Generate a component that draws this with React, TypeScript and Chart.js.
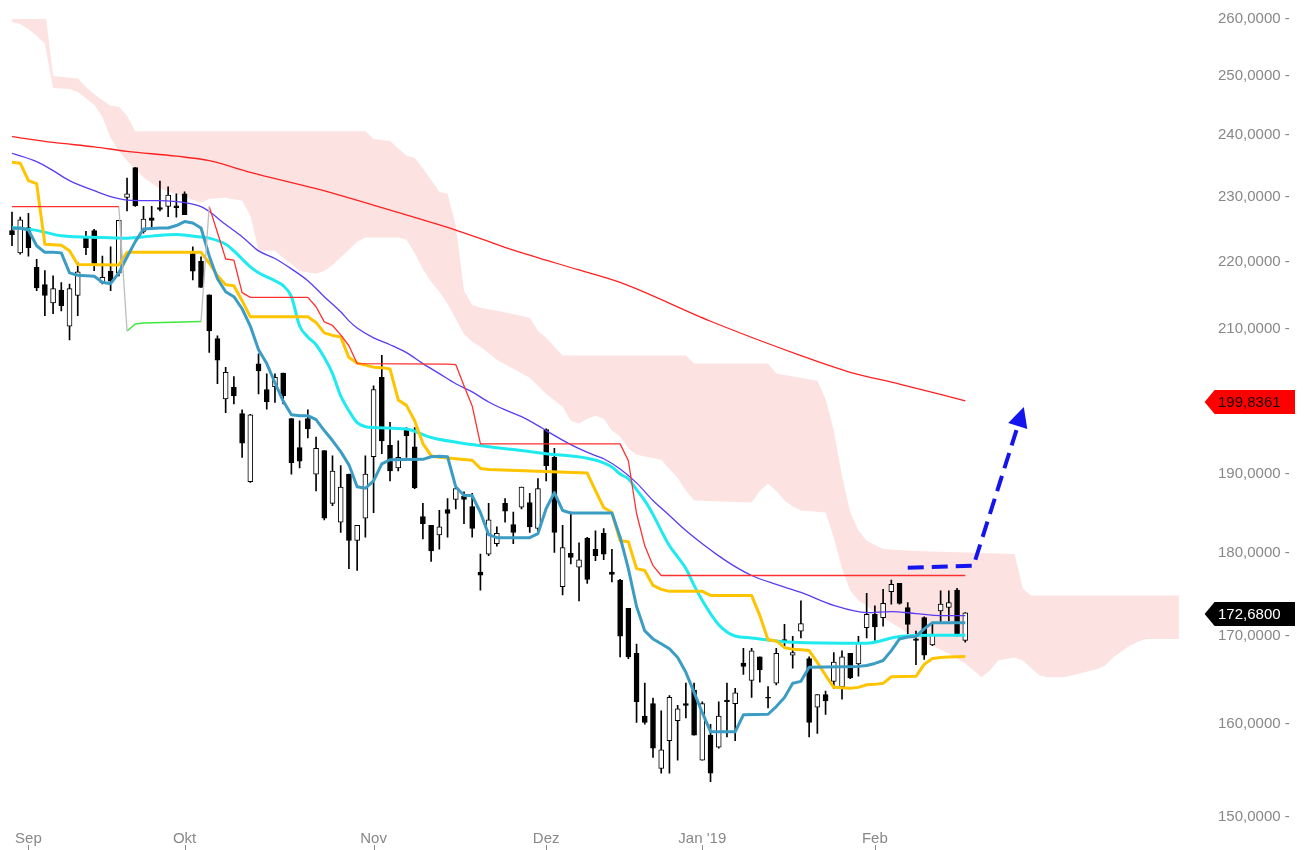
import React, { useEffect, useRef } from 'react';
import { Chart, registerables } from 'chart.js';

Chart.register(...registerables);

const FONT = '"Liberation Sans", Arial, Helvetica, sans-serif';

// ---- axis labels ----
const monthTickIdx = [2, 21, 44, 65, 84, 105];
const monthLabels = ['Sep', 'Okt', 'Nov', 'Dez', "Jan '19", 'Feb'];
const yTicks = [150, 160, 170, 180, 190, 200, 210, 220, 230, 240, 250, 260];

// ---- candles (trading-day index 0..116) ----
const opens = [224.7,221.3,225.2,219.1,216.5,213.8,215.7,210.4,214.9,223.6,
  224.7,216.8,218.5,218.2,229.9,234.7,224.6,226.7,228.3,228.5,
  228.6,230.5,221.2,220.0,215.0,208.6,200.1,201.7,198.1,189.0,
  205.0,201.4,201.8,203.7,197.4,193.5,197.4,190.0,193.1,186.2,
  183.8,190.0,181.5,184.3,192.3,203.1,193.8,190.8,195.9,193.6,
  184.5,183.4,182.2,185.4,186.7,187.1,185.8,177.6,179.8,181.1,
  186.2,183.5,185.7,186.3,183.0,195.9,192.2,175.8,179.9,178.2,
  181.8,180.4,182.4,177.6,176.6,173.2,167.9,160.8,162.2,155.1,
  158.1,160.3,162.2,163.7,156.0,158.7,157.4,162.6,162.2,166.8,
  164.8,167.5,162.9,164.5,169.5,167.7,170.5,167.3,161.8,163.2,
  164.7,164.1,167.9,166.7,170.9,172.5,172.1,175.2,176.2,173.3,
  169.6,172.1,168.9,172.9,173.3,175.4,169.4];
const highs = [227.6,226.8,227.4,220.3,218.6,217.8,216.8,216.6,219.8,224.6,
  224.9,220.8,222.2,226.3,233.0,234.7,228.5,228.5,232.5,231.6,
  230.5,230.8,222.2,220.7,215.0,209.0,204.5,203.2,198.6,198.0,
  206.4,203.6,203.6,203.7,197.4,197.1,198.6,194.9,193.1,192.4,
  191.1,190.0,183.4,192.4,201.9,206.2,196.9,194.4,196.2,196.2,
  186.2,183.4,185.3,186.8,188.3,187.7,187.5,179.8,186.2,183.2,
  186.8,185.1,188.3,187.5,189.4,196.0,193.4,183.4,185.1,181.2,
  181.9,182.7,183.0,180.4,176.7,173.2,169.0,164.5,162.8,161.4,
  163.1,162.0,164.5,164.5,162.4,159.9,162.4,164.5,163.9,168.5,
  168.5,167.5,164.1,168.5,171.3,169.9,174.1,167.5,163.2,163.6,
  168.0,168.2,167.9,169.9,175.0,173.5,175.5,176.6,176.2,173.9,
  170.5,172.2,171.3,175.3,175.3,175.6,172.7];
const lows = [222.4,221.1,220.8,215.6,211.9,212.2,212.6,208.4,211.9,221.0,
  218.6,216.6,215.6,217.8,227.8,228.5,224.3,224.9,227.8,226.9,
  226.8,227.2,217.2,216.1,206.6,202.2,198.2,199.4,192.2,188.9,
  200.8,198.7,199.6,199.4,190.0,190.8,194.8,187.8,184.1,185.9,
  182.5,178.0,177.8,181.9,185.0,192.7,189.1,190.4,192.2,188.1,
  181.7,178.9,180.4,181.9,185.5,183.6,181.9,175.4,179.6,180.8,
  183.8,181.1,185.5,182.5,182.7,189.1,180.0,174.8,178.6,174.1,
  176.2,179.0,179.1,176.4,167.5,167.3,160.1,159.9,156.3,154.6,
  154.6,156.0,160.6,158.7,156.0,153.7,157.3,158.5,158.1,165.5,
  162.9,164.6,161.7,164.3,168.6,166.2,169.7,158.5,158.9,161.0,
  163.9,162.7,165.0,165.3,169.7,169.4,171.1,173.7,173.7,170.2,
  166.6,167.2,168.8,171.5,171.7,169.9,169.2];
const closes = [224.1,226.4,222.1,216.0,214.9,215.9,213.4,215.9,218.4,222.1,
  219.7,217.6,217.0,226.3,230.5,228.6,226.5,226.3,228.0,230.3,
  228.3,227.2,218.5,216.1,209.7,205.5,203.8,200.5,194.1,197.9,
  204.0,199.7,203.1,200.5,191.5,191.7,196.0,193.4,184.3,190.4,
  188.3,181.5,183.4,190.0,201.4,194.4,190.4,192.2,195.1,188.2,
  183.6,180.2,183.2,184.9,188.1,186.7,183.0,177.2,184.1,182.4,
  185.2,182.5,188.3,183.2,188.1,191.1,182.5,180.6,179.4,179.1,
  176.7,179.6,179.8,177.3,169.9,167.5,162.4,160.1,157.3,157.1,
  162.9,161.6,162.0,158.7,162.2,154.6,160.8,162.4,163.4,166.4,
  168.2,166.0,162.8,167.9,169.3,168.0,171.4,160.1,163.2,162.5,
  166.9,167.5,165.1,169.2,172.5,171.0,173.8,176.1,173.8,171.3,
  169.4,167.7,170.1,173.7,173.9,170.1,172.68];

// ---- indicator lines: [index, value] ----
const maLong = [[0,239.76],[5,238.79],[10,238.07],[14,237.34],[20,236.54],[24,235.81],[29,233.93],[37,231.3],[45,228.3],[53,225.2],[57,223.47],[61,221.71],[69,218.7],[74,216.83],[85,211.1],[96,206.16],[102,203.8],[108,202.16],[116,199.8361]];
const maMid = [[0,237.02],[3,235.65],[5,234.2],[7,232.59],[10,230.98],[12,230.02],[14,229.5],[18,229.39],[21,229.08],[23,228.46],[24,227.68],[26,225.65],[28,223.78],[30,221.6],[32,220.44],[34,218.86],[36,217.08],[38,214.71],[40,212.49],[41,211.16],[42,210.12],[44,208.7],[46,207.71],[48,206.58],[50,205.03],[52,203.62],[54,202.2],[56,201.07],[58,199.68],[60,198.6],[62,197.66],[64,196.45],[65,195.78],[68,193.9],[71,192.42],[72,192.02],[74,190.67],[76,188.85],[78,186.56],[80,184.65],[82,182.74],[84,181.08],[86,179.58],[88,178.25],[90,177.17],[93,176.08],[96,175.11],[100,173.55],[104,172.7],[107,172.82],[110,172.58],[113,172.34],[116,172.34]];
const cyanLine = [[0,225.19],[3,224.75],[6,223.91],[11,223.66],[14,223.55],[17,223.86],[20,224.1],[23,223.71],[24,223.55],[26,222.62],[27,221.6],[28,220.36],[29,219.16],[30,218.27],[31,217.67],[32,217.08],[33,216.34],[34,214.71],[35,210.41],[36,208.84],[37,207.71],[38,205.88],[39,203.62],[40,200.51],[41,198.47],[42,196.85],[43,196.32],[44,196.18],[48,195.98],[51,194.84],[56,193.9],[61,193.23],[65,192.69],[70,192.08],[72,191.48],[73,190.94],[74,190.0],[75,189.36],[76,187.96],[77,186.56],[78,184.78],[79,182.74],[80,180.83],[81,179.46],[82,178.01],[83,175.96],[84,174.15],[85,172.58],[86,171.26],[87,170.41],[88,169.93],[90,169.7],[95,169.19],[104,169.08],[108,169.88],[112,170.01],[116,170.01]];
const kijun = [[0,235.57],[1,235.41],[2,232.59],[3,232.11],[4,222.62],[5,222.54],[6,222.46],[7,221.6],[8,219.53],[13,219.45],[14,221.37],[23,221.37],[24,219.75],[25,217.82],[26,216.49],[27,216.34],[28,214.12],[29,211.75],[36,211.75],[37,210.93],[38,209.41],[39,209.05],[40,208.84],[41,205.88],[42,205.1],[43,204.82],[44,204.53],[45,204.46],[46,204.28],[47,199.95],[48,199.21],[49,197.12],[50,194.03],[51,192.42],[52,192.22],[56,191.81],[57,190.74],[58,190.6],[70,190.13],[71,187.83],[72,185.67],[73,185.03],[74,181.46],[75,181.34],[76,178.01],[77,177.77],[78,175.96],[79,175.48],[80,175.24],[84,175.24],[85,174.75],[90,174.75],[91,172.34],[92,169.48],[93,169.36],[94,168.57],[95,168.4],[96,168.34],[97,168.23],[98,166.86],[99,165.39],[100,164.02],[102,163.91],[103,164.02],[104,164.31],[105,164.36],[106,164.48],[107,165.22],[110,165.27],[111,166.64],[112,167.32],[113,167.43],[114,167.49],[116,167.55]];
const tenkan = [[0,225.03],[1,225.11],[2,224.8],[3,222.38],[4,221.37],[5,221.37],[6,221.29],[7,218.27],[8,217.9],[9,217.82],[10,217.75],[11,216.86],[12,216.64],[13,218.27],[14,220.67],[15,223.01],[16,224.95],[17,225.03],[18,225.11],[19,225.11],[20,225.5],[21,226.12],[22,225.89],[23,225.11],[24,220.83],[25,217.38],[26,215.45],[27,214.71],[28,212.93],[29,210.41],[30,207.01],[31,205.03],[32,202.34],[33,199.81],[34,197.93],[35,197.8],[36,197.8],[37,197.26],[38,195.78],[39,194.44],[40,192.96],[41,191.21],[42,188.34],[43,188.15],[44,189.11],[45,191.34],[46,191.88],[50,191.94],[51,192.28],[52,192.35],[53,192.28],[54,188.34],[55,187.2],[56,187.2],[57,185.03],[58,182.23],[59,181.85],[63,181.85],[64,182.36],[65,185.54],[66,187.58],[67,185.29],[68,184.97],[73,184.97],[74,181.91],[75,178.01],[76,173.42],[77,170.53],[78,169.59],[79,169.02],[80,168.45],[81,167.43],[82,165.73],[83,163.45],[84,161.18],[85,159.08],[88,159.08],[89,160.95],[92,161.01],[93,161.86],[94,162.89],[95,164.48],[96,164.7],[97,166.3],[103,166.41],[104,166.52],[105,166.75],[106,167.09],[107,168.23],[108,169.59],[109,169.82],[110,169.88],[111,170.77],[112,171.5],[116,171.5]];

// stop line: bearish (red), switch (grey), bullish (green)
const stopRedA = [[0,228.46],[13,228.46]];
const stopGreyA = [[13,228.46],[14,209.69]];
const stopGreen = [[14,209.69],[15,210.71],[16,210.86],[23,211.08]];
const stopGreyB = [[23,211.08],[24,228.46]];
const stopRedB = [[24,228.46],[25,224.41],[26,220.36],[27,220.2],[28,215.3],[29,214.61],[36,214.61],[37,213.23],[38,211.01],[39,210.49],[40,209.12],[41,207.57],[42,205.03],[53,204.96],[54,204.89],[55,201.92],[56,199.14],[57,193.99],[74,193.99],[75,191.75],[76,184.9],[77,180.83],[78,178.37],[79,177.17],[116,177.17]];

// cloud edges (extends 26 periods ahead)
const cloudTop = [[0,262],[4,262],[5,250.0],[8,249.55],[9,248.1],[10,246.84],[11,245.83],[12,244.9],[13,244.73],[14,243.21],[15,240.64],[43,240.64],[44,239.36],[46,239.03],[48,236.62],[49,236.3],[50,234.53],[52,230.82],[53,230.48],[54,225.5],[55,215.59],[56,213.53],[57,213.08],[59,212.64],[63,211.6],[64,209.69],[65,208.7],[67,206.16],[82,206.16],[83,205.03],[92,205.03],[93,203.62],[98,202.63],[99,200.08],[100,195.78],[101,189.75],[102,185.03],[103,182.74],[104,181.46],[106,180.42],[110,180.18],[122,179.82],[123,175.6],[124,174.75],[142,174.75]];
const cloudBottom = [[0,259.46],[1,259.1],[2,258.2],[3,257.0],[4,255.6],[5,247.94],[7,247.77],[8,247.26],[10,245.07],[11,243.04],[12,239.52],[13,237.42],[14,235.81],[15,234.52],[16,233.08],[18,231.3],[21,230.02],[23,229.08],[24,229.7],[26,229.86],[28,229.39],[29,227.06],[30,221.61],[32,221.61],[33,220.52],[34,219.6],[35,218.56],[37,218.12],[38,218.56],[39,219.45],[41,221.76],[42,223.01],[43,223.63],[47,223.63],[48,223.32],[49,221.29],[50,218.86],[51,216.93],[52,215.45],[53,213.67],[54,211.45],[55,209.27],[56,208.14],[57,207.43],[59,205.59],[61,204.32],[63,203.05],[65,200.79],[67,199.01],[68,197.12],[69,196.72],[70,197.39],[71,197.8],[72,197.39],[73,195.78],[74,194.97],[75,193.36],[76,192.56],[79,191.88],[80,190.67],[81,189.49],[82,187.83],[83,186.56],[90,186.31],[91,187.83],[92,188.73],[93,187.83],[94,186.56],[95,185.8],[96,185.29],[99,185.03],[100,181.85],[101,178.01],[102,175.36],[103,174.15],[104,173.55],[105,172.7],[107,171.5],[108,170.9],[110,169.7],[112,168.8],[114,167.89],[116,166.75],[118,165.16],[119,165.95],[120,167.09],[122,167.43],[123,167.09],[125,165.39],[126,165.16],[128,165.16],[130,165.61],[132,166.07],[133,166.52],[134,167.43],[136,168.8],[137,169.25],[138,169.59],[142,169.59]];

// projected move (dashed arrow)
const arrowPath = [[109,178.13],[117,178.37],[122.9,198.2]];

const fmt = (v: number) => v.toFixed(4).replace('.', ',');
const pts = (a: number[][]) => a.map(([x, y]) => ({ x, y }));

const ARROW_COLOR = '#1414ee';

const xTickMarks = {
  id: 'xTickMarks',
  afterDraw(chart: any) {
    const xs = chart.scales.x;
    const ctx = chart.ctx;
    ctx.save();
    ctx.strokeStyle = '#888';
    ctx.lineWidth = 1;
    for (const v of monthTickIdx) {
      const px = Math.round(xs.getPixelForValue(v)) + 0.5;
      ctx.beginPath();
      ctx.moveTo(px, 845);
      ctx.lineTo(px, 850);
      ctx.stroke();
    }
    ctx.restore();
  },
};

const arrowHead = {
  id: 'arrowHead',
  afterDatasetsDraw(chart: any) {
    const i = chart.data.datasets.findIndex((d: any) => d.label === 'arrow');
    if (i < 0) return;
    const p = chart.getDatasetMeta(i).data;
    const a = p[p.length - 2], b = p[p.length - 1];
    const ang = Math.atan2(b.y - a.y, b.x - a.x);
    const c = Math.cos(ang), s = Math.sin(ang);
    const tx = b.x + 6 * c, ty = b.y + 6 * s;
    const L = 20, W = 10;
    const ctx = chart.ctx;
    ctx.save();
    ctx.fillStyle = ARROW_COLOR;
    ctx.beginPath();
    ctx.moveTo(tx, ty);
    ctx.lineTo(tx - L * c + W * s, ty - L * s - W * c);
    ctx.lineTo(tx - L * c - W * s, ty - L * s + W * c);
    ctx.closePath();
    ctx.fill();
    ctx.restore();
  },
};

const priceTags = {
  id: 'priceTags',
  afterDraw(chart: any) {
    const ys = chart.scales.y;
    const ctx = chart.ctx;
    const x0 = chart.chartArea.right + 1;
    const tags = [
      { v: maLong[maLong.length - 1][1], bg: '#ff0000', fg: '#1a0000' },
      { v: closes[closes.length - 1], bg: '#000000', fg: '#ffffff' },
    ];
    ctx.save();
    ctx.font = '15px ' + FONT;
    ctx.textBaseline = 'middle';
    ctx.textAlign = 'left';
    for (const t of tags) {
      const py = Math.round(ys.getPixelForValue(t.v)) + 1;
      ctx.beginPath();
      ctx.moveTo(x0, py);
      ctx.lineTo(x0 + 10, py - 12);
      ctx.lineTo(1295, py - 12);
      ctx.lineTo(1295, py + 12);
      ctx.lineTo(x0 + 10, py + 12);
      ctx.closePath();
      ctx.fillStyle = t.bg;
      ctx.fill();
      ctx.fillStyle = t.fg;
      ctx.fillText(fmt(t.v), 1218, py + 1);
    }
    ctx.restore();
  },
};

export default function App() {
  const ref = useRef<HTMLCanvasElement | null>(null);

  useEffect(() => {
    if (!ref.current) return;
    const idx = opens.map((_, i) => i);
    const bodyColors = idx.map((i) => (closes[i] >= opens[i] ? '#ffffff' : '#000000'));
    const line = (label: string, data: number[][], color: string, width: number, order: number, extra: any = {}) => ({
      type: 'line',
      label,
      data: pts(data),
      borderColor: color,
      borderWidth: width,
      pointRadius: 0,
      pointHoverRadius: 0,
      tension: 0,
      fill: false,
      order,
      borderJoinStyle: 'round',
      ...extra,
    });

    const chart = new Chart(ref.current, {
      type: 'bar',
      data: {
        datasets: [
          line('cloudTop', cloudTop, 'rgba(0,0,0,0)', 0, 20),
          line('cloudBottom', cloudBottom, 'rgba(0,0,0,0)', 0, 19, { fill: 0, backgroundColor: '#fde2e2' }),
          {
            type: 'bar', label: 'wicks',
            data: idx.map((i) => ({ x: i, y: [lows[i], highs[i]] })),
            backgroundColor: '#000000', borderWidth: 0, barThickness: 1, grouped: false, order: 18,
          },
          {
            type: 'bar', label: 'bodies',
            data: idx.map((i) => ({ x: i, y: [opens[i], closes[i]] })),
            backgroundColor: bodyColors, borderColor: '#000000', borderWidth: 1, borderSkipped: false,
            barThickness: 5, grouped: false, order: 17,
          },
          line('maLong', maLong, '#ff2020', 1.3, 9, { cubicInterpolationMode: 'monotone' }),
          line('maMid', maMid, '#5a3cf2', 1.3, 8, { cubicInterpolationMode: 'monotone' }),
          line('cyan', cyanLine, '#1eeaf0', 3, 7, { cubicInterpolationMode: 'monotone' }),
          line('kijun', kijun, '#ffc400', 3, 6),
          line('tenkan', tenkan, '#3b9dc3', 3, 5),
          line('stopRedA', stopRedA, '#ff3030', 1.3, 4),
          line('stopGreyA', stopGreyA, '#bdbdbd', 1.3, 4),
          line('stopGreen', stopGreen, '#3ce83c', 1.5, 4),
          line('stopGreyB', stopGreyB, '#bdbdbd', 1.3, 4),
          line('stopRedB', stopRedB, '#ff3030', 1.3, 4),
          line('arrow', arrowPath, ARROW_COLOR, 4, 1, { borderDash: [16, 8], borderCapStyle: 'butt', borderJoinStyle: 'miter' }),
        ] as any,
      },
      options: {
        animation: false,
        responsive: false,
        devicePixelRatio: 1,
        events: [],
        layout: { padding: { left: 8.3, top: 19, right: 0, bottom: 0 }, autoPadding: false },
        plugins: { legend: { display: false }, tooltip: { enabled: false } },
        scales: {
          x: {
            type: 'linear',
            min: -0.45,
            max: 145,
            bounds: 'data',
            offset: false,
            grid: { display: false, drawTicks: false },
            border: { display: false },
            ticks: {
              autoSkip: false,
              maxRotation: 0,
              padding: 13,
              color: '#888888',
              font: { family: FONT, size: 15 },
              callback: (v: any) => {
                const k = monthTickIdx.indexOf(Number(v));
                return k >= 0 ? monthLabels[k] : '';
              },
            },
            afterBuildTicks: (s: any) => {
              s.ticks = monthTickIdx.map((v) => ({ value: v }));
            },
            afterFit: (s: any) => {
              s.height = 33;
            },
          },
          y: {
            type: 'logarithmic',
            position: 'right',
            min: 150,
            max: 260,
            bounds: 'data',
            beginAtZero: false,
            grid: { display: false, drawTicks: true, tickLength: 14.4 },
            border: { display: false },
            ticks: {
              padding: 0,
              color: '#888888',
              font: { family: FONT, size: 15 },
              autoSkip: false,
              callback: (v: any) => fmt(Number(v)) + ' -',
            },
            afterBuildTicks: (s: any) => {
              s.ticks = yTicks.map((v) => ({ value: v }));
            },
            afterFit: (s: any) => {
              s.width = 104.4;
              s.paddingTop = 0;
              s.paddingBottom = 0;
            },
          },
        },
      } as any,
      plugins: [xTickMarks, arrowHead, priceTags],
    });
    return () => chart.destroy();
  }, []);

  return (
    <div style={{ position: 'absolute', left: 0, top: 0, width: 1308, height: 850, background: '#fff' }}>
      <canvas ref={ref} width={1308} height={850} style={{ display: 'block', width: 1308, height: 850 }} />
    </div>
  );
}
